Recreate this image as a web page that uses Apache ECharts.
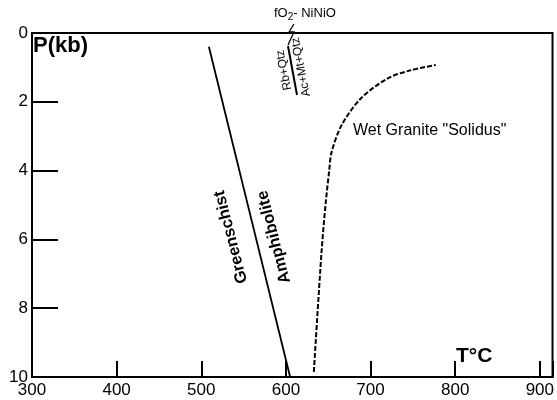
<!DOCTYPE html>
<html><head><meta charset="utf-8">
<script src="https://cdn.jsdelivr.net/npm/echarts@6/dist/echarts.min.js"></script>
<style>html,body{margin:0;padding:0;background:#fff}#c{width:557px;height:400px}</style>
</head><body><div id="c"></div>
<script>
// Data
const xTicks = [300, 400, 500, 600, 700, 800, 900];
const yTicks = [0, 2, 4, 6, 8, 10];
const boundaryT = [509, 605];
const boundaryP = [0.4, 10];
const solidusT = [633, 642, 647, 651, 654, 666, 689, 721, 748, 777];
const solidusP = [9.85, 6.4, 4.94, 4.04, 3.46, 2.67, 1.89, 1.31, 1.08, 0.93];

const font = 'Liberation Sans, Arial, sans-serif';
const rot = 104.3 * Math.PI / 180;
const chart = echarts.init(document.getElementById('c'));
chart.setOption({
  backgroundColor: '#fff',
  animation: false,
  grid: { left: 32, top: 33, right: 2, bottom: 23, show: true, borderColor: '#000', borderWidth: 2, backgroundColor: 'transparent' },
  xAxis: {
    type: 'value', min: 300, max: 915, interval: 100, position: 'bottom',
    axisLine: { show: true, onZero: false, lineStyle: { color: '#000', width: 2 } },
    axisTick: { show: true, inside: true, length: 16, lineStyle: { color: '#000', width: 2 } },
    axisLabel: { margin: 5, color: '#000', fontSize: 17, fontFamily: font,
      formatter: v => xTicks.includes(v) ? String(v) : '' },
    splitLine: { show: false }
  },
  yAxis: {
    type: 'value', inverse: true, min: 0, max: 10, interval: 2, position: 'left',
    axisLine: { show: true, onZero: false, lineStyle: { color: '#000', width: 2 } },
    axisTick: { show: true, inside: true, length: 26, lineStyle: { color: '#000', width: 2 } },
    axisLabel: { margin: 4, color: '#000', fontSize: 17, fontFamily: font,
      formatter: v => yTicks.includes(v) ? String(v) : '' },
    splitLine: { show: false }
  },
  series: [
    { type: 'line', symbol: 'none', data: boundaryT.map((t, i) => [t, boundaryP[i]]),
      lineStyle: { color: '#000', width: 1.8 } },
    { type: 'line', symbol: 'none', smooth: 0.3, data: solidusT.map((t, i) => [t, solidusP[i]]),
      lineStyle: { color: '#000', width: 2, type: [5, 2] } }
  ],
  graphic: [
    { type: 'text', left: 33, top: 35, style: { text: 'P(kb)', font: 'bold 22px ' + font, fill: '#000' } },
    { type: 'text', left: 456, top: 346, style: { text: 'T°C', font: 'bold 21px ' + font, fill: '#000' } },
    { type: 'text', left: 353, top: 123, style: { text: 'Wet Granite "Solidus"', font: '16px ' + font, fill: '#000' } },
    { type: 'text', x: 231, y: 237, rotation: rot,
      style: { text: 'Greenschist', font: 'bold 16.5px ' + font, fill: '#000', align: 'center', verticalAlign: 'middle' } },
    { type: 'text', x: 274, y: 237, rotation: rot,
      style: { text: 'Amphibolite', font: 'bold 16.5px ' + font, fill: '#000', align: 'center', verticalAlign: 'middle' } },
    { type: 'text', left: 274, top: 7, style: {
        rich: { a: { font: '13px ' + font, fill: '#000' }, s: { font: '10px ' + font, fill: '#000', padding: [8, 0, 0, 0] } },
        text: '{a|fO}{s|2}{a|- NiNiO}' } },
    { type: 'polyline', shape: { points: [[294, 24], [289, 32], [294, 32], [288, 45]] }, style: { stroke: '#000', lineWidth: 1.3, fill: null } },
    { type: 'line', shape: { x1: 288, y1: 46, x2: 297, y2: 95 }, style: { stroke: '#000', lineWidth: 2 } },
    { type: 'text', x: 284, y: 70, rotation: 101 * Math.PI / 180,
      style: { text: 'Rb+Qtz', font: '12px ' + font, fill: '#000', align: 'center', verticalAlign: 'middle' } },
    { type: 'text', x: 301, y: 67, rotation: 101 * Math.PI / 180,
      style: { text: 'Ac+Mt+Qtz', font: '12px ' + font, fill: '#000', align: 'center', verticalAlign: 'middle' } }
  ]
});
</script></body></html>
